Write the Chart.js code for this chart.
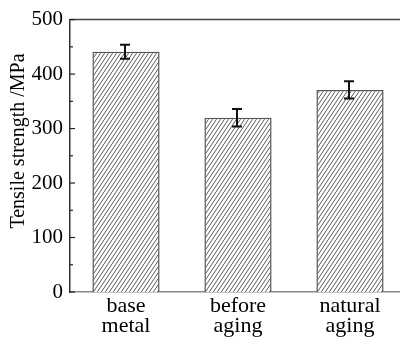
<!DOCTYPE html>
<html>
<head>
<meta charset="utf-8">
<script src="https://cdn.jsdelivr.net/npm/chart.js@4"></script>
<style>
  html, body { margin: 0; padding: 0; background: #fff; }
  #wrap { width: 400px; height: 340px; overflow: hidden; }
</style>
</head>
<body>
<div id="wrap"><canvas id="myChart" width="406" height="340"></canvas></div>
<script>
// data
const categories = [['base', 'metal'], ['before', 'aging'], ['natural', 'aging']];
const strength = [441, 320, 371];
const strengthErr = [13, 16, 16];
const yTicks = [0, 100, 200, 300, 400, 500];

const serif = '"Liberation Serif", "DejaVu Serif", serif';

// diagonal hatch fill
function makeHatch() {
  const w = 4, h = 6;
  const c = document.createElement('canvas');
  c.width = w; c.height = h;
  const g = c.getContext('2d');
  g.fillStyle = '#fff';
  g.fillRect(0, 0, w, h);
  g.strokeStyle = '#5a5a5a';
  g.lineWidth = 1;
  g.beginPath();
  g.moveTo(0, h); g.lineTo(w, 0);
  g.moveTo(-w, h); g.lineTo(0, 0);
  g.moveTo(w, h); g.lineTo(2 * w, 0);
  g.stroke();
  return g.createPattern(c, 'repeat');
}

const ctx = document.getElementById('myChart').getContext('2d');

// frame line, inward ticks, error bars, y title
const decor = {
  id: 'decor',
  afterDatasetsDraw(chart) {
    const c = chart.ctx;
    const area = chart.chartArea;
    const y = chart.scales.y;
    const x = chart.scales.x;
    c.save();
    // top frame line
    c.strokeStyle = '#444';
    c.lineWidth = 1.5;
    c.beginPath();
    c.moveTo(area.left, area.top);
    c.lineTo(area.right, area.top);
    c.stroke();
    // ticks on left axis, drawn inward
    c.strokeStyle = '#222';
    c.lineWidth = 1.2;
    for (let v = 0; v <= 500; v += 50) {
      const py = y.getPixelForValue(v);
      const len = v % 100 === 0 ? 5 : 3;
      c.beginPath();
      c.moveTo(area.left, py);
      c.lineTo(area.left + len, py);
      c.stroke();
    }
    // error bars
    c.strokeStyle = '#111';
    c.lineWidth = 2;
    strength.forEach((v, i) => {
      const px = x.getPixelForValue(i) - 1;
      const top = y.getPixelForValue(v + strengthErr[i]);
      const bot = y.getPixelForValue(v - strengthErr[i]);
      c.beginPath();
      c.moveTo(px, top); c.lineTo(px, bot);
      c.moveTo(px - 5, top); c.lineTo(px + 5, top);
      c.moveTo(px - 5, bot); c.lineTo(px + 5, bot);
      c.stroke();
    });
    // y axis title
    c.fillStyle = '#000';
    c.font = '20px ' + serif;
    c.textAlign = 'center';
    c.textBaseline = 'middle';
    c.translate(19, 141);
    c.rotate(-Math.PI / 2);
    c.fillText('Tensile strength /MPa', 0, 0);
    c.restore();
  }
};

new Chart(ctx, {
  type: 'bar',
  data: {
    labels: categories,
    datasets: [{
      data: strength,
      backgroundColor: makeHatch(),
      borderColor: '#555',
      borderWidth: 1.5,
      barPercentage: 0.6,
      categoryPercentage: 1.0
    }]
  },
  options: {
    responsive: false,
    animation: false,
    layout: { padding: { top: 17, right: 0, left: 0, bottom: 0 } },
    plugins: {
      legend: { display: false },
      tooltip: { enabled: false }
    },
    scales: {
      x: {
        grid: { display: false, drawTicks: false },
        border: { display: true, color: '#888', width: 1.5 },
        ticks: {
          color: '#000',
          padding: 4,
          maxRotation: 0,
          font: { family: serif, size: 22, lineHeight: 0.92 }
        },
        afterFit(scale) { scale.height = 48; }
      },
      y: {
        min: 0,
        max: 500,
        afterBuildTicks(scale) { scale.ticks = yTicks.map(v => ({ value: v })); },
        grid: { display: false, drawTicks: false },
        border: { display: true, color: '#333', width: 1.5 },
        ticks: {
          color: '#000',
          padding: 7,
          font: { family: serif, size: 21 }
        },
        afterFit(scale) { scale.width = 70; }
      }
    }
  },
  plugins: [decor]
});
</script>
</body>
</html>
